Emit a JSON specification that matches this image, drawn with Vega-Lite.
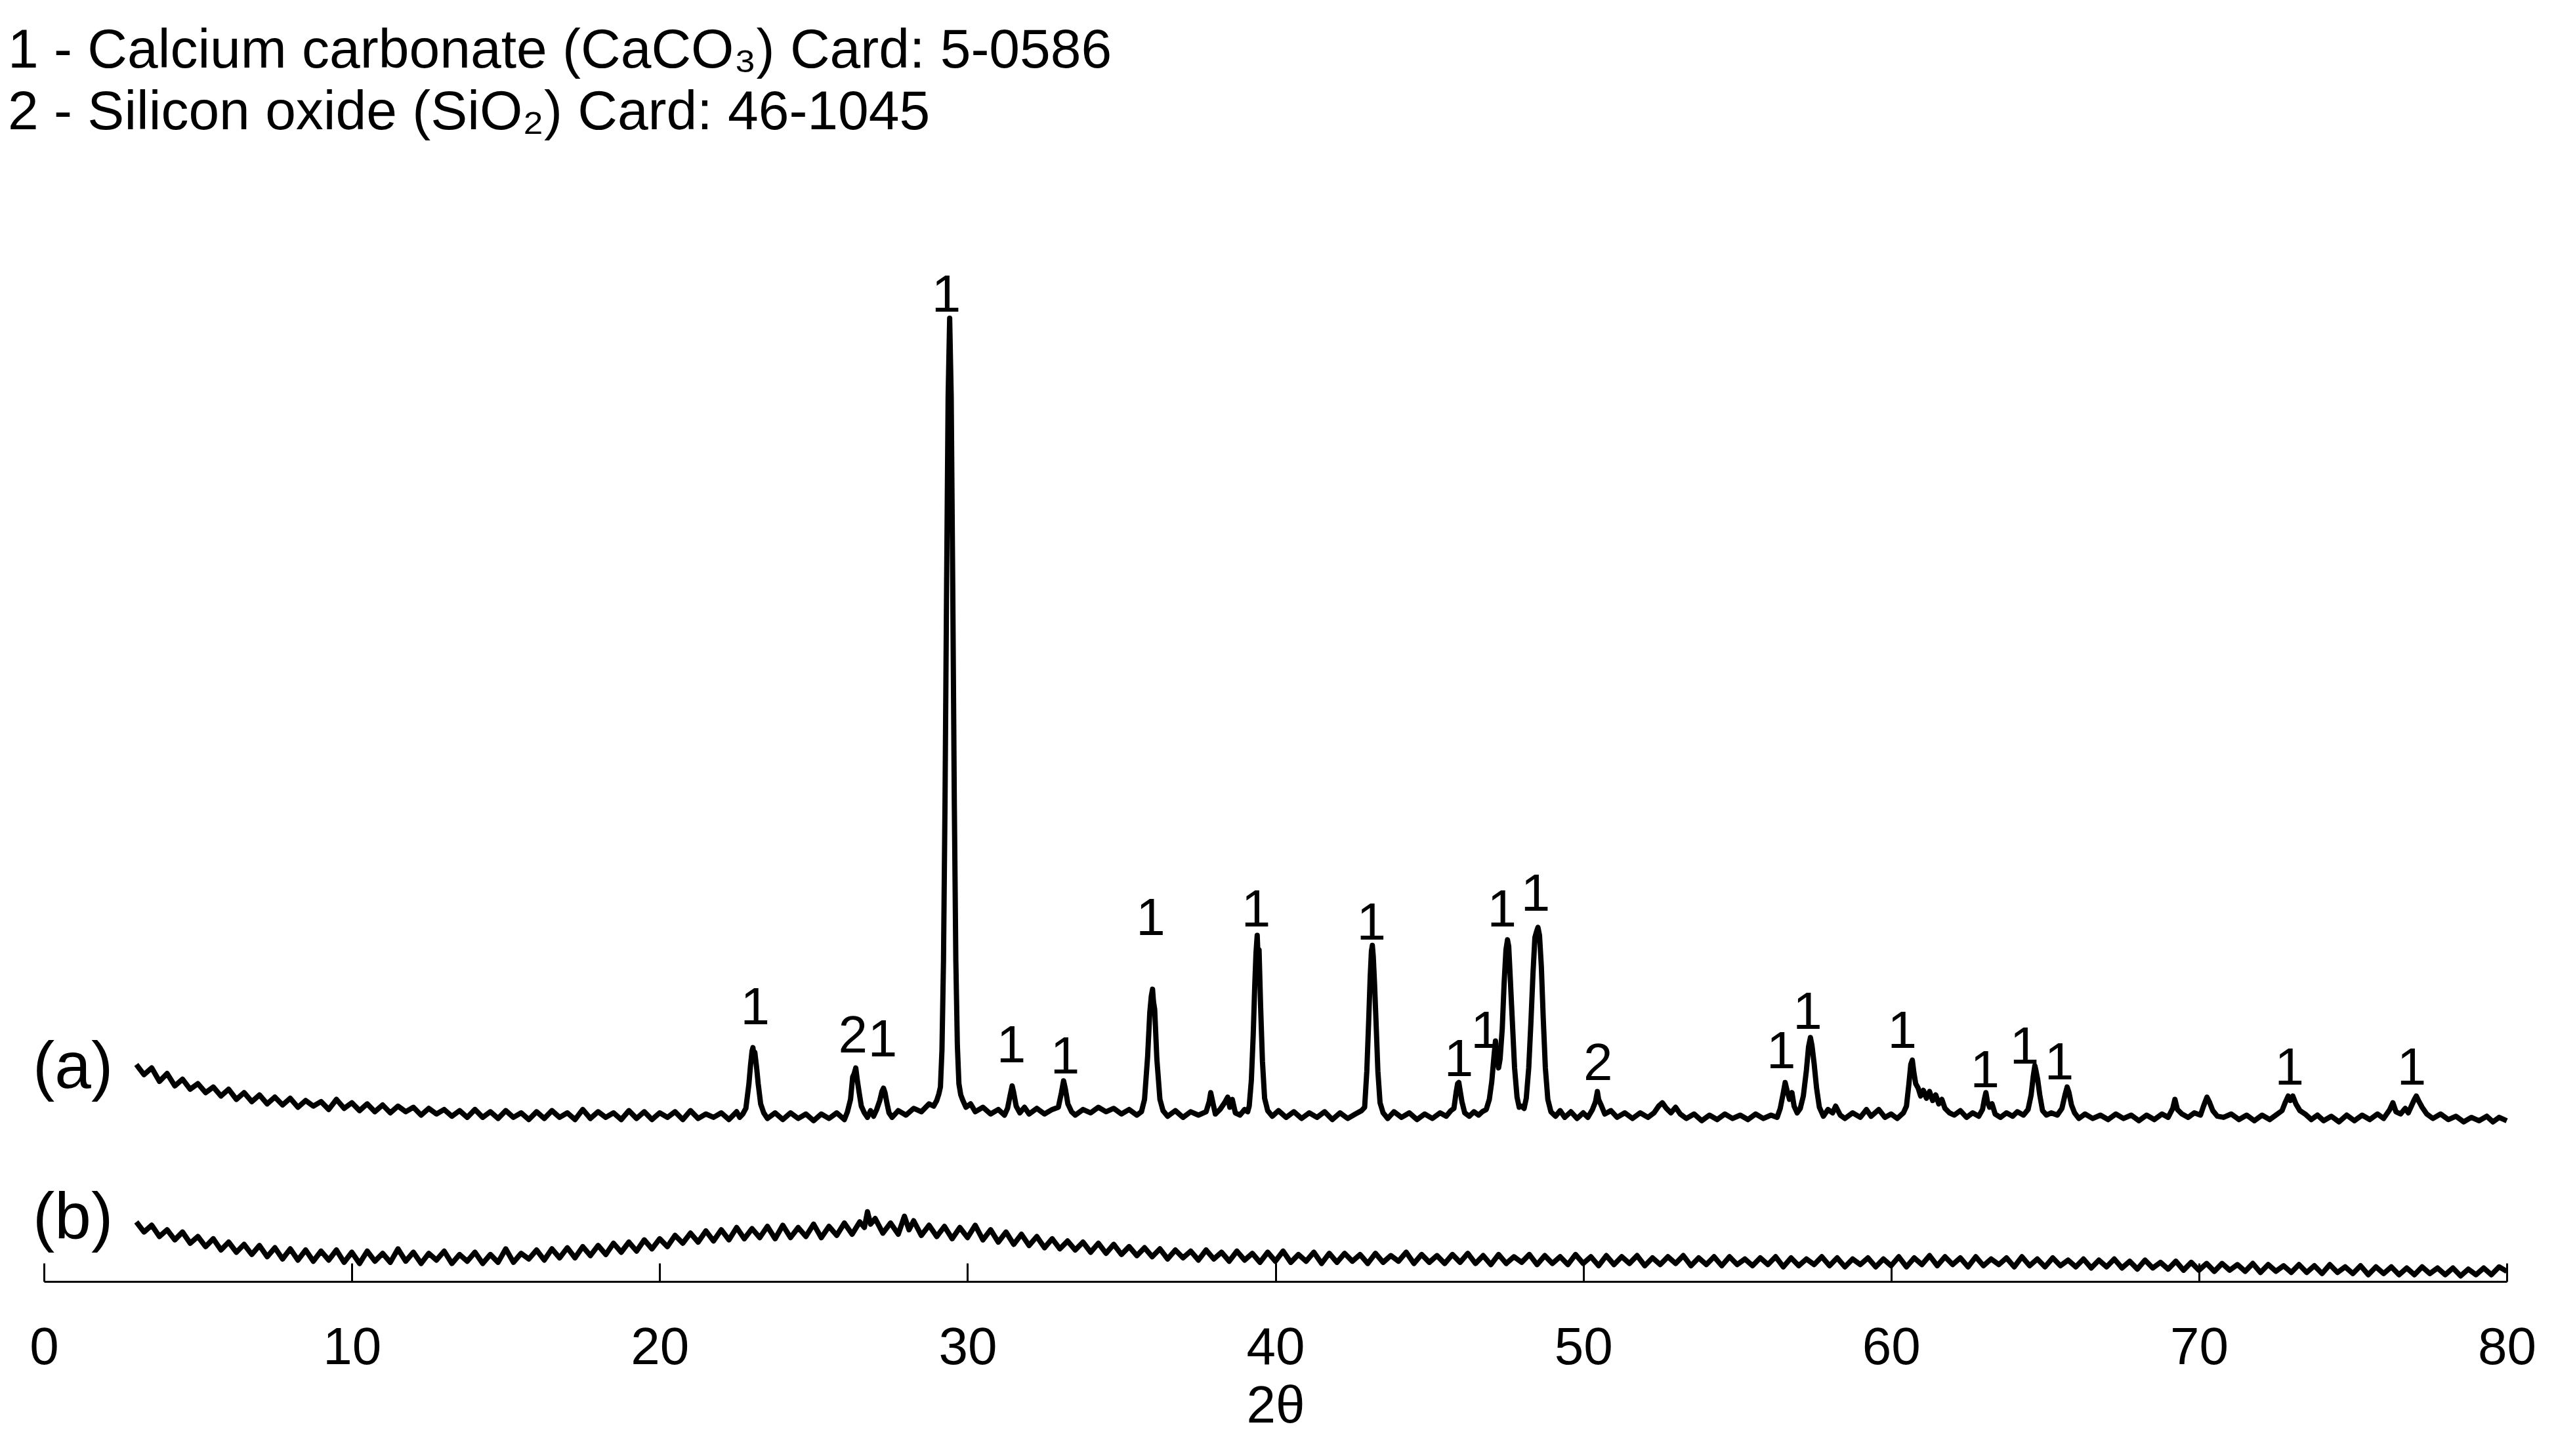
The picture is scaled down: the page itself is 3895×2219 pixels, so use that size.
{
  "$schema": "https://vega.github.io/schema/vega-lite/v6.json",
  "width": 3753,
  "height": 1713,
  "autosize": {"type": "none"},
  "padding": {"left": 67, "top": 240, "right": 75, "bottom": 266},
  "background": "white",
  "config": {"view": {"stroke": null}, "font": "Liberation Sans"},
  "title": {
    "text": ["1 - Calcium carbonate (CaCO₃) Card: 5-0586", "2 - Silicon oxide (SiO₂) Card: 46-1045"],
    "anchor": "start",
    "frame": "group",
    "font": "Liberation Sans",
    "fontSize": 84,
    "fontWeight": "normal",
    "lineHeight": 94,
    "color": "black",
    "dx": -55,
    "offset": 25
  },
  "datasets": {
    "pa": [
      {"t":3.0,"i":19.3},{"t":3.25,"i":18.4},{"t":3.5,"i":19.0},{"t":3.75,"i":17.8},{"t":4.0,"i":18.5},{"t":4.25,"i":17.4},{"t":4.5,"i":18.0},{"t":4.75,"i":17.1},{"t":5.0,"i":17.6},{"t":5.25,"i":16.8},{"t":5.5,"i":17.3},{"t":5.75,"i":16.5},{"t":6.0,"i":17.1},{"t":6.25,"i":16.2},{"t":6.5,"i":16.8},{"t":6.75,"i":16.0},{"t":7.0,"i":16.6},{"t":7.25,"i":15.8},{"t":7.5,"i":16.4},{"t":7.75,"i":15.7},{"t":8.0,"i":16.3},{"t":8.25,"i":15.5},{"t":8.5,"i":16.1},{"t":8.75,"i":15.6},{"t":9.0,"i":16.0},{"t":9.25,"i":15.3},{"t":9.5,"i":16.2},{"t":9.75,"i":15.4},{"t":10.0,"i":15.9},{"t":10.25,"i":15.2},{"t":10.5,"i":15.8},{"t":10.75,"i":15.1},{"t":11.0,"i":15.7},{"t":11.25,"i":15.0},{"t":11.5,"i":15.6},{"t":11.75,"i":15.1},{"t":12.0,"i":15.5},{"t":12.25,"i":14.8},{"t":12.5,"i":15.4},{"t":12.75,"i":14.9},{"t":13.0,"i":15.3},{"t":13.25,"i":14.7},{"t":13.5,"i":15.2},{"t":13.75,"i":14.6},{"t":14.0,"i":15.3},{"t":14.25,"i":14.6},{"t":14.5,"i":15.1},{"t":14.75,"i":14.5},{"t":15.0,"i":15.2},{"t":15.25,"i":14.6},{"t":15.5,"i":15.0},{"t":15.75,"i":14.4},{"t":16.0,"i":15.1},{"t":16.25,"i":14.5},{"t":16.5,"i":15.2},{"t":16.75,"i":14.6},{"t":17.0,"i":15.0},{"t":17.25,"i":14.4},{"t":17.5,"i":15.3},{"t":17.75,"i":14.5},{"t":18.0,"i":15.1},{"t":18.25,"i":14.6},{"t":18.5,"i":15.0},{"t":18.75,"i":14.4},{"t":19.0,"i":15.2},{"t":19.25,"i":14.5},{"t":19.5,"i":15.1},{"t":19.75,"i":14.4},{"t":20.0,"i":15.0},{"t":20.25,"i":14.6},{"t":20.5,"i":15.1},{"t":20.75,"i":14.4},{"t":21.0,"i":15.2},{"t":21.25,"i":14.5},{"t":21.5,"i":14.9},{"t":21.75,"i":14.6},{"t":22.0,"i":15.0},{"t":22.25,"i":14.4},{"t":22.5,"i":15.1},{"t":22.6,"i":14.6},
      {"t":22.7,"i":14.9},{"t":22.8,"i":15.4},{"t":22.9,"i":17.6},{"t":22.95,"i":19.2},{"t":23.0,"i":20.5},{"t":23.03,"i":20.8},{"t":23.06,"i":20.1},{"t":23.09,"i":20.4},{"t":23.15,"i":19.0},{"t":23.2,"i":17.6},{"t":23.28,"i":15.8},{"t":23.38,"i":15.0},{"t":23.5,"i":14.5},{"t":23.75,"i":15.0},{"t":24.0,"i":14.4},{"t":24.25,"i":15.0},{"t":24.5,"i":14.5},{"t":24.75,"i":14.9},{"t":25.0,"i":14.3},{"t":25.25,"i":14.9},{"t":25.5,"i":14.5},{"t":25.75,"i":15.0},{"t":26.0,"i":14.4},{"t":26.1,"i":15.1},
      {"t":26.2,"i":16.2},{"t":26.27,"i":18.2},{"t":26.32,"i":18.5},{"t":26.37,"i":19.0},{"t":26.42,"i":17.9},{"t":26.48,"i":16.8},{"t":26.55,"i":15.6},{"t":26.65,"i":15.0},{"t":26.75,"i":14.6},{"t":26.85,"i":15.2},{"t":26.95,"i":14.7},{"t":27.05,"i":15.3},{"t":27.15,"i":16.1},{"t":27.22,"i":16.9},{"t":27.27,"i":17.2},{"t":27.32,"i":16.8},{"t":27.38,"i":15.9},{"t":27.45,"i":15.0},{"t":27.55,"i":14.6},{"t":27.75,"i":15.2},{"t":28.0,"i":14.8},{"t":28.25,"i":15.4},{"t":28.5,"i":15.1},{"t":28.75,"i":15.8},{"t":28.9,"i":15.6},{"t":29.0,"i":16.1},
      {"t":29.07,"i":16.7},{"t":29.12,"i":17.3},{"t":29.17,"i":20.6},{"t":29.22,"i":28.6},{"t":29.27,"i":42.9},{"t":29.32,"i":61.8},{"t":29.37,"i":78.7},{"t":29.42,"i":85.7},{"t":29.47,"i":78.7},{"t":29.52,"i":61.8},{"t":29.57,"i":42.9},{"t":29.62,"i":28.6},{"t":29.67,"i":21.0},{"t":29.72,"i":17.6},{"t":29.78,"i":16.6},{"t":29.85,"i":16.1},{"t":29.95,"i":15.5},{"t":30.1,"i":15.8},{"t":30.25,"i":15.1},{"t":30.5,"i":15.5},{"t":30.75,"i":14.9},{"t":31.0,"i":15.3},{"t":31.2,"i":14.8},
      {"t":31.3,"i":15.4},{"t":31.38,"i":16.5},{"t":31.45,"i":17.4},{"t":31.5,"i":16.8},{"t":31.58,"i":15.6},{"t":31.7,"i":15.0},{"t":31.85,"i":15.5},{"t":32.0,"i":14.9},{"t":32.25,"i":15.4},{"t":32.5,"i":14.9},{"t":32.75,"i":15.3},{"t":32.95,"i":15.5},{"t":33.05,"i":16.8},{"t":33.12,"i":17.85},{"t":33.18,"i":17.1},{"t":33.26,"i":15.8},{"t":33.38,"i":15.1},{"t":33.5,"i":14.8},{"t":33.75,"i":15.3},{"t":34.0,"i":15.0},{"t":34.25,"i":15.5},{"t":34.5,"i":15.1},{"t":34.75,"i":15.4},{"t":35.0,"i":14.9},{"t":35.25,"i":15.3},{"t":35.5,"i":14.8},
      {"t":35.65,"i":15.1},{"t":35.75,"i":16.2},{"t":35.85,"i":20.0},{"t":35.92,"i":23.9},{"t":35.97,"i":25.4},{"t":36.01,"i":26.0},{"t":36.04,"i":24.9},{"t":36.08,"i":24.2},{"t":36.15,"i":19.8},{"t":36.25,"i":16.2},{"t":36.35,"i":15.2},{"t":36.5,"i":14.7},{"t":36.75,"i":15.2},{"t":37.0,"i":14.6},{"t":37.25,"i":15.1},{"t":37.5,"i":14.8},{"t":37.75,"i":15.1},{"t":37.85,"i":16.0},{"t":37.9,"i":16.8},{"t":37.97,"i":15.9},{"t":38.05,"i":14.9},{"t":38.2,"i":15.3},{"t":38.35,"i":15.9},{"t":38.45,"i":16.4},{"t":38.52,"i":15.5},{"t":38.6,"i":16.2},{"t":38.7,"i":15.0},{"t":38.85,"i":14.8},{"t":39.0,"i":15.3},{"t":39.1,"i":15.1},
      {"t":39.15,"i":15.6},{"t":39.22,"i":17.9},{"t":39.28,"i":21.9},{"t":39.33,"i":26.3},{"t":39.37,"i":29.2},{"t":39.41,"i":30.8},{"t":39.44,"i":28.6},{"t":39.47,"i":29.5},{"t":39.52,"i":24.5},{"t":39.58,"i":19.6},{"t":39.65,"i":16.3},{"t":39.75,"i":15.2},{"t":39.9,"i":14.7},{"t":40.1,"i":15.2},{"t":40.35,"i":14.6},{"t":40.6,"i":15.1},{"t":40.85,"i":14.5},{"t":41.1,"i":15.0},{"t":41.35,"i":14.6},{"t":41.6,"i":15.1},{"t":41.85,"i":14.4},{"t":42.1,"i":15.0},{"t":42.35,"i":14.5},{"t":42.6,"i":14.9},{"t":42.8,"i":15.2},
      {"t":42.9,"i":15.5},{"t":42.97,"i":18.7},{"t":43.03,"i":23.1},{"t":43.08,"i":27.1},{"t":43.12,"i":29.4},{"t":43.15,"i":29.9},{"t":43.18,"i":28.9},{"t":43.22,"i":26.6},{"t":43.27,"i":23.1},{"t":43.33,"i":18.7},{"t":43.4,"i":15.9},{"t":43.5,"i":15.0},{"t":43.65,"i":14.5},{"t":43.85,"i":15.1},{"t":44.1,"i":14.6},{"t":44.35,"i":15.0},{"t":44.6,"i":14.4},{"t":44.85,"i":14.9},{"t":45.1,"i":14.5},{"t":45.35,"i":15.0},{"t":45.55,"i":14.7},{"t":45.7,"i":15.2},
      {"t":45.8,"i":15.4},{"t":45.87,"i":16.8},{"t":45.92,"i":17.6},{"t":45.96,"i":17.7},{"t":46.0,"i":17.0},{"t":46.06,"i":16.0},{"t":46.15,"i":15.0},{"t":46.3,"i":14.7},{"t":46.45,"i":15.1},{"t":46.6,"i":14.8},{"t":46.72,"i":15.1},{"t":46.85,"i":15.3},{"t":46.95,"i":16.2},{"t":47.03,"i":17.8},{"t":47.1,"i":20.0},{"t":47.15,"i":21.4},{"t":47.2,"i":19.8},{"t":47.25,"i":19.0},{"t":47.3,"i":19.8},{"t":47.37,"i":22.5},{"t":47.43,"i":26.5},{"t":47.49,"i":29.5},{"t":47.54,"i":30.4},{"t":47.58,"i":29.8},{"t":47.63,"i":27.0},{"t":47.7,"i":23.0},{"t":47.77,"i":19.0},{"t":47.85,"i":16.4},{"t":47.92,"i":15.5},{"t":48.0,"i":15.6},{"t":48.08,"i":15.4},{"t":48.15,"i":16.3},{"t":48.23,"i":19.0},{"t":48.3,"i":23.0},{"t":48.37,"i":27.5},{"t":48.43,"i":30.6},{"t":48.48,"i":31.1},{"t":48.53,"i":31.5},{"t":48.58,"i":30.8},{"t":48.64,"i":28.0},{"t":48.7,"i":23.5},{"t":48.77,"i":19.0},{"t":48.85,"i":16.2},{"t":48.95,"i":15.1},{"t":49.1,"i":14.7},{"t":49.25,"i":15.2},{"t":49.4,"i":14.6},{"t":49.6,"i":15.1},{"t":49.8,"i":14.5},{"t":50.0,"i":15.0},{"t":50.15,"i":14.6},{"t":50.3,"i":15.3},{"t":50.4,"i":16.0},{"t":50.46,"i":16.9},{"t":50.5,"i":16.2},{"t":50.58,"i":15.7},{"t":50.7,"i":14.9},{"t":50.9,"i":15.2},{"t":51.1,"i":14.6},{"t":51.35,"i":15.0},{"t":51.6,"i":14.5},{"t":51.85,"i":15.0},{"t":52.1,"i":14.6},{"t":52.3,"i":15.0},{"t":52.45,"i":15.6},{"t":52.57,"i":15.9},{"t":52.7,"i":15.4},{"t":52.85,"i":15.0},{"t":53.0,"i":15.5},{"t":53.15,"i":14.9},{"t":53.35,"i":14.5},{"t":53.6,"i":14.9},{"t":53.85,"i":14.3},{"t":54.1,"i":14.8},{"t":54.35,"i":14.4},{"t":54.6,"i":14.9},{"t":54.85,"i":14.5},{"t":55.1,"i":14.8},{"t":55.35,"i":14.4},{"t":55.6,"i":14.9},{"t":55.85,"i":14.5},{"t":56.1,"i":14.8},{"t":56.3,"i":14.6},
      {"t":56.4,"i":15.4},{"t":56.5,"i":16.8},{"t":56.56,"i":17.7},{"t":56.62,"i":17.0},{"t":56.7,"i":16.2},{"t":56.78,"i":16.8},{"t":56.85,"i":15.6},{"t":56.95,"i":15.0},{"t":57.05,"i":15.4},{"t":57.15,"i":16.5},{"t":57.25,"i":18.8},{"t":57.32,"i":20.9},{"t":57.38,"i":21.7},{"t":57.43,"i":21.0},{"t":57.5,"i":19.4},{"t":57.58,"i":17.2},{"t":57.67,"i":15.5},{"t":57.8,"i":14.7},{"t":57.95,"i":15.3},{"t":58.1,"i":15.0},{"t":58.2,"i":15.6},{"t":58.35,"i":14.8},{"t":58.5,"i":14.5},{"t":58.75,"i":15.0},{"t":59.0,"i":14.6},{"t":59.2,"i":15.3},{"t":59.35,"i":14.7},{"t":59.6,"i":15.3},{"t":59.8,"i":14.6},{"t":60.0,"i":14.9},{"t":60.2,"i":14.5},{"t":60.4,"i":15.0},
      {"t":60.5,"i":15.6},{"t":60.58,"i":17.6},{"t":60.64,"i":19.3},{"t":60.69,"i":19.7},{"t":60.74,"i":18.6},{"t":60.8,"i":17.6},{"t":60.88,"i":17.2},{"t":60.96,"i":16.5},{"t":61.05,"i":17.0},{"t":61.15,"i":16.3},{"t":61.25,"i":16.9},{"t":61.35,"i":16.1},{"t":61.45,"i":16.6},{"t":61.55,"i":15.8},{"t":61.65,"i":16.2},{"t":61.75,"i":15.4},{"t":61.9,"i":15.0},{"t":62.05,"i":14.8},{"t":62.25,"i":15.2},{"t":62.45,"i":14.6},{"t":62.65,"i":15.0},{"t":62.85,"i":14.7},{"t":62.97,"i":15.3},{"t":63.03,"i":16.2},{"t":63.08,"i":16.8},{"t":63.13,"i":16.0},{"t":63.2,"i":15.5},{"t":63.28,"i":15.8},{"t":63.38,"i":14.9},{"t":63.55,"i":14.6},{"t":63.75,"i":15.0},{"t":63.95,"i":14.7},{"t":64.1,"i":15.1},{"t":64.3,"i":14.8},{"t":64.45,"i":15.3},{"t":64.55,"i":16.6},{"t":64.62,"i":18.3},{"t":64.67,"i":19.2},{"t":64.71,"i":18.7},{"t":64.76,"i":18.0},{"t":64.83,"i":16.6},{"t":64.92,"i":15.2},{"t":65.05,"i":14.8},{"t":65.2,"i":15.0},{"t":65.4,"i":14.8},{"t":65.55,"i":15.4},{"t":65.65,"i":16.6},{"t":65.72,"i":17.3},{"t":65.78,"i":16.8},{"t":65.86,"i":15.7},{"t":65.96,"i":15.0},{"t":66.1,"i":14.5},{"t":66.3,"i":14.9},{"t":66.55,"i":14.5},{"t":66.8,"i":14.8},{"t":67.05,"i":14.4},{"t":67.3,"i":14.9},{"t":67.55,"i":14.5},{"t":67.8,"i":14.8},{"t":68.05,"i":14.3},{"t":68.3,"i":14.8},{"t":68.55,"i":14.4},{"t":68.8,"i":14.9},{"t":69.0,"i":14.6},{"t":69.15,"i":15.4},{"t":69.22,"i":16.2},{"t":69.3,"i":15.3},{"t":69.45,"i":14.9},{"t":69.65,"i":14.6},{"t":69.85,"i":15.0},{"t":70.05,"i":14.8},{"t":70.15,"i":15.6},{"t":70.26,"i":16.4},{"t":70.35,"i":15.9},{"t":70.45,"i":15.2},{"t":70.6,"i":14.7},{"t":70.8,"i":14.6},{"t":71.05,"i":14.9},{"t":71.3,"i":14.4},{"t":71.55,"i":14.8},{"t":71.8,"i":14.3},{"t":72.05,"i":14.8},{"t":72.3,"i":14.4},{"t":72.55,"i":14.9},{"t":72.7,"i":15.2},{"t":72.8,"i":15.9},{"t":72.9,"i":16.5},{"t":72.97,"i":16.1},{"t":73.05,"i":16.5},{"t":73.15,"i":15.8},{"t":73.28,"i":15.2},{"t":73.45,"i":14.9},{"t":73.65,"i":14.4},{"t":73.85,"i":14.8},{"t":74.05,"i":14.3},{"t":74.3,"i":14.7},{"t":74.55,"i":14.2},{"t":74.8,"i":14.8},{"t":75.05,"i":14.3},{"t":75.3,"i":14.8},{"t":75.55,"i":14.4},{"t":75.8,"i":14.9},{"t":76.0,"i":14.5},{"t":76.2,"i":15.3},{"t":76.3,"i":15.9},{"t":76.4,"i":15.1},{"t":76.55,"i":14.9},{"t":76.7,"i":15.4},{"t":76.8,"i":15.0},{"t":76.9,"i":15.6},{"t":77.0,"i":16.2},{"t":77.06,"i":16.5},{"t":77.15,"i":16.0},{"t":77.25,"i":15.5},{"t":77.4,"i":14.9},{"t":77.6,"i":14.5},{"t":77.85,"i":14.9},{"t":78.1,"i":14.4},{"t":78.35,"i":14.7},{"t":78.6,"i":14.2},{"t":78.85,"i":14.6},{"t":79.1,"i":14.3},{"t":79.35,"i":14.7},{"t":79.55,"i":14.2},{"t":79.75,"i":14.6},{"t":80.0,"i":14.3}
    ],
    "pb": [
      {"t":3.0,"i":5.3},{"t":3.25,"i":4.4},{"t":3.5,"i":5.0},{"t":3.75,"i":4.0},{"t":4.0,"i":4.6},{"t":4.25,"i":3.7},{"t":4.5,"i":4.4},{"t":4.75,"i":3.4},{"t":5.0,"i":4.0},{"t":5.25,"i":3.1},{"t":5.5,"i":3.8},{"t":5.75,"i":2.8},{"t":6.0,"i":3.5},{"t":6.25,"i":2.6},{"t":6.5,"i":3.3},{"t":6.75,"i":2.4},{"t":7.0,"i":3.2},{"t":7.25,"i":2.2},{"t":7.5,"i":3.0},{"t":7.75,"i":2.0},{"t":8.0,"i":2.9},{"t":8.25,"i":1.9},{"t":8.5,"i":2.8},{"t":8.75,"i":1.8},{"t":9.0,"i":2.7},{"t":9.25,"i":1.9},{"t":9.5,"i":2.8},{"t":9.75,"i":1.7},{"t":10.0,"i":2.6},{"t":10.25,"i":1.6},{"t":10.5,"i":2.7},{"t":10.75,"i":1.8},{"t":11.0,"i":2.5},{"t":11.25,"i":1.7},{"t":11.5,"i":2.9},{"t":11.75,"i":1.8},{"t":12.0,"i":2.6},{"t":12.25,"i":1.6},{"t":12.5,"i":2.5},{"t":12.75,"i":1.9},{"t":13.0,"i":2.7},{"t":13.25,"i":1.6},{"t":13.5,"i":2.4},{"t":13.75,"i":1.8},{"t":14.0,"i":2.6},{"t":14.25,"i":1.6},{"t":14.5,"i":2.4},{"t":14.75,"i":1.7},{"t":15.0,"i":2.9},{"t":15.25,"i":1.7},{"t":15.5,"i":2.5},{"t":15.75,"i":2.0},{"t":16.0,"i":2.8},{"t":16.25,"i":1.9},{"t":16.5,"i":2.9},{"t":16.75,"i":2.1},{"t":17.0,"i":3.0},{"t":17.25,"i":2.1},{"t":17.5,"i":3.1},{"t":17.75,"i":2.3},{"t":18.0,"i":3.2},{"t":18.25,"i":2.4},{"t":18.5,"i":3.4},{"t":18.75,"i":2.6},{"t":19.0,"i":3.5},{"t":19.25,"i":2.7},{"t":19.5,"i":3.7},{"t":19.75,"i":2.9},{"t":20.0,"i":3.8},{"t":20.25,"i":3.1},{"t":20.5,"i":4.1},{"t":20.75,"i":3.4},{"t":21.0,"i":4.3},{"t":21.25,"i":3.5},{"t":21.5,"i":4.5},{"t":21.75,"i":3.6},{"t":22.0,"i":4.6},{"t":22.25,"i":3.7},{"t":22.5,"i":4.8},{"t":22.75,"i":3.8},{"t":23.0,"i":4.7},{"t":23.25,"i":3.9},{"t":23.5,"i":4.9},{"t":23.75,"i":3.8},{"t":24.0,"i":5.0},{"t":24.25,"i":3.9},{"t":24.5,"i":4.8},{"t":24.75,"i":4.0},{"t":25.0,"i":5.1},{"t":25.25,"i":3.9},{"t":25.5,"i":4.9},{"t":25.75,"i":4.1},{"t":26.0,"i":5.2},{"t":26.25,"i":4.2},{"t":26.5,"i":5.3},{"t":26.65,"i":4.8},{"t":26.75,"i":6.2},{"t":26.85,"i":5.1},{"t":27.0,"i":5.6},{"t":27.25,"i":4.3},{"t":27.5,"i":5.2},{"t":27.75,"i":4.2},{"t":27.95,"i":5.8},{"t":28.1,"i":4.6},{"t":28.25,"i":5.4},{"t":28.5,"i":4.1},{"t":28.75,"i":5.0},{"t":29.0,"i":4.0},{"t":29.25,"i":4.9},{"t":29.5,"i":3.8},{"t":29.75,"i":4.8},{"t":30.0,"i":3.9},{"t":30.25,"i":5.0},{"t":30.5,"i":3.7},{"t":30.75,"i":4.6},{"t":31.0,"i":3.5},{"t":31.25,"i":4.4},{"t":31.5,"i":3.3},{"t":31.75,"i":4.2},{"t":32.0,"i":3.2},{"t":32.25,"i":4.0},{"t":32.5,"i":3.0},{"t":32.75,"i":3.8},{"t":33.0,"i":2.9},{"t":33.25,"i":3.6},{"t":33.5,"i":2.8},{"t":33.75,"i":3.5},{"t":34.0,"i":2.6},{"t":34.25,"i":3.4},{"t":34.5,"i":2.5},{"t":34.75,"i":3.3},{"t":35.0,"i":2.4},{"t":35.25,"i":3.1},{"t":35.5,"i":2.3},{"t":35.75,"i":3.0},{"t":36.0,"i":2.2},{"t":36.25,"i":2.9},{"t":36.5,"i":2.0},{"t":36.75,"i":2.8},{"t":37.0,"i":2.1},{"t":37.25,"i":2.7},{"t":37.5,"i":1.9},{"t":37.75,"i":2.8},{"t":38.0,"i":2.0},{"t":38.25,"i":2.6},{"t":38.5,"i":1.8},{"t":38.75,"i":2.7},{"t":39.0,"i":1.9},{"t":39.25,"i":2.5},{"t":39.5,"i":1.7},{"t":39.75,"i":2.6},{"t":40.0,"i":1.8},{"t":40.25,"i":2.7},{"t":40.5,"i":1.7},{"t":40.75,"i":2.4},{"t":41.0,"i":1.8},{"t":41.25,"i":2.6},{"t":41.5,"i":1.6},{"t":41.75,"i":2.5},{"t":42.0,"i":1.7},{"t":42.25,"i":2.5},{"t":42.5,"i":1.8},{"t":42.75,"i":2.4},{"t":43.0,"i":1.6},{"t":43.25,"i":2.5},{"t":43.5,"i":1.7},{"t":43.75,"i":2.3},{"t":44.0,"i":1.8},{"t":44.25,"i":2.6},{"t":44.5,"i":1.6},{"t":44.75,"i":2.4},{"t":45.0,"i":1.7},{"t":45.25,"i":2.3},{"t":45.5,"i":1.6},{"t":45.75,"i":2.4},{"t":46.0,"i":1.7},{"t":46.25,"i":2.5},{"t":46.5,"i":1.6},{"t":46.75,"i":2.3},{"t":47.0,"i":1.5},{"t":47.25,"i":2.4},{"t":47.5,"i":1.6},{"t":47.75,"i":2.2},{"t":48.0,"i":1.7},{"t":48.25,"i":2.4},{"t":48.5,"i":1.5},{"t":48.75,"i":2.3},{"t":49.0,"i":1.6},{"t":49.25,"i":2.2},{"t":49.5,"i":1.5},{"t":49.75,"i":2.4},{"t":50.0,"i":1.6},{"t":50.25,"i":2.2},{"t":50.5,"i":1.4},{"t":50.75,"i":2.3},{"t":51.0,"i":1.5},{"t":51.25,"i":2.2},{"t":51.5,"i":1.6},{"t":51.75,"i":2.3},{"t":52.0,"i":1.4},{"t":52.25,"i":2.1},{"t":52.5,"i":1.5},{"t":52.75,"i":2.2},{"t":53.0,"i":1.6},{"t":53.25,"i":2.3},{"t":53.5,"i":1.4},{"t":53.75,"i":2.1},{"t":54.0,"i":1.5},{"t":54.25,"i":2.2},{"t":54.5,"i":1.4},{"t":54.75,"i":2.2},{"t":55.0,"i":1.5},{"t":55.25,"i":2.0},{"t":55.5,"i":1.4},{"t":55.75,"i":2.1},{"t":56.0,"i":1.5},{"t":56.25,"i":2.2},{"t":56.5,"i":1.3},{"t":56.75,"i":2.1},{"t":57.0,"i":1.4},{"t":57.25,"i":2.0},{"t":57.5,"i":1.5},{"t":57.75,"i":2.2},{"t":58.0,"i":1.4},{"t":58.25,"i":2.1},{"t":58.5,"i":1.3},{"t":58.75,"i":2.0},{"t":59.0,"i":1.5},{"t":59.25,"i":2.1},{"t":59.5,"i":1.3},{"t":59.75,"i":2.0},{"t":60.0,"i":1.4},{"t":60.25,"i":2.2},{"t":60.5,"i":1.3},{"t":60.75,"i":2.1},{"t":61.0,"i":1.5},{"t":61.25,"i":2.3},{"t":61.5,"i":1.4},{"t":61.75,"i":2.2},{"t":62.0,"i":1.5},{"t":62.25,"i":2.1},{"t":62.5,"i":1.3},{"t":62.75,"i":2.2},{"t":63.0,"i":1.4},{"t":63.25,"i":2.0},{"t":63.5,"i":1.5},{"t":63.75,"i":2.1},{"t":64.0,"i":1.3},{"t":64.25,"i":2.2},{"t":64.5,"i":1.4},{"t":64.75,"i":2.0},{"t":65.0,"i":1.3},{"t":65.25,"i":2.1},{"t":65.5,"i":1.4},{"t":65.75,"i":1.9},{"t":66.0,"i":1.3},{"t":66.25,"i":2.0},{"t":66.5,"i":1.2},{"t":66.75,"i":1.9},{"t":67.0,"i":1.3},{"t":67.25,"i":2.0},{"t":67.5,"i":1.2},{"t":67.75,"i":1.8},{"t":68.0,"i":1.1},{"t":68.25,"i":1.9},{"t":68.5,"i":1.2},{"t":68.75,"i":1.7},{"t":69.0,"i":1.1},{"t":69.25,"i":1.8},{"t":69.5,"i":1.0},{"t":69.75,"i":1.7},{"t":70.0,"i":1.0},{"t":70.25,"i":1.6},{"t":70.5,"i":0.9},{"t":70.75,"i":1.6},{"t":71.0,"i":1.0},{"t":71.25,"i":1.5},{"t":71.5,"i":0.9},{"t":71.75,"i":1.6},{"t":72.0,"i":0.8},{"t":72.25,"i":1.5},{"t":72.5,"i":0.9},{"t":72.75,"i":1.4},{"t":73.0,"i":0.8},{"t":73.25,"i":1.5},{"t":73.5,"i":0.8},{"t":73.75,"i":1.4},{"t":74.0,"i":0.7},{"t":74.25,"i":1.5},{"t":74.5,"i":0.8},{"t":74.75,"i":1.3},{"t":75.0,"i":0.7},{"t":75.25,"i":1.4},{"t":75.5,"i":0.6},{"t":75.75,"i":1.3},{"t":76.0,"i":0.7},{"t":76.25,"i":1.3},{"t":76.5,"i":0.6},{"t":76.75,"i":1.2},{"t":77.0,"i":0.6},{"t":77.25,"i":1.3},{"t":77.5,"i":0.7},{"t":77.75,"i":1.2},{"t":78.0,"i":0.6},{"t":78.25,"i":1.2},{"t":78.5,"i":0.5},{"t":78.75,"i":1.1},{"t":79.0,"i":0.6},{"t":79.25,"i":1.2},{"t":79.5,"i":0.6},{"t":79.75,"i":1.3},{"t":80.0,"i":0.9}
    ],
    "lab": [
      {"t":23.1,"i":22.9,"s":"1"},{"t":26.28,"i":20.4,"s":"2"},{"t":27.24,"i":20.0,"s":"1"},{"t":29.31,"i":86.3,"s":"1"},{"t":31.42,"i":19.5,"s":"1"},{"t":33.17,"i":18.5,"s":"1"},{"t":35.95,"i":30.8,"s":"1"},{"t":39.37,"i":31.6,"s":"1"},{"t":43.12,"i":30.4,"s":"1"},{"t":45.96,"i":18.3,"s":"1"},{"t":46.82,"i":20.8,"s":"1"},{"t":47.36,"i":31.6,"s":"1"},{"t":48.45,"i":33.0,"s":"1"},{"t":50.48,"i":17.9,"s":"2"},{"t":56.43,"i":19.0,"s":"1"},{"t":57.29,"i":22.5,"s":"1"},{"t":60.36,"i":20.8,"s":"1"},{"t":63.05,"i":17.3,"s":"1"},{"t":64.33,"i":19.4,"s":"1"},{"t":65.46,"i":18.0,"s":"1"},{"t":72.94,"i":17.5,"s":"1"},{"t":76.91,"i":17.5,"s":"1"}
    ],
    "side": [
      {"t":0.94,"i":17.2,"s":"(a)"},{"t":0.94,"i":3.8,"s":"(b)"}
    ]
  },
  "layer": [
    {
      "data": {"name": "pb"},
      "mark": {"type": "line", "color": "black", "strokeWidth": 8, "strokeJoin": "round"},
      "encoding": {
        "x": {"field": "t", "type": "quantitative", "scale": {"domain": [0, 80], "nice": false, "zero": false},
          "axis": {"values": [0, 10, 20, 30, 40, 50, 60, 70, 80], "format": "d", "title": "2θ", "grid": false,
            "domainColor": "black", "domainWidth": 3, "tickColor": "black", "tickWidth": 3, "tickSize": -28,
            "labelFontSize": 80, "labelFont": "Liberation Sans", "labelColor": "black", "labelPadding": 90,
            "labelFlush": false, "labelOverlap": false,
            "titleFontSize": 80, "titleFont": "Liberation Sans", "titleFontWeight": "normal", "titleColor": "black", "titlePadding": 10}},
        "y": {"field": "i", "type": "quantitative", "scale": {"domain": [0, 100], "nice": false, "zero": false}, "axis": null}
      }
    },
    {
      "data": {"name": "pa"},
      "mark": {"type": "line", "color": "black", "strokeWidth": 8, "strokeJoin": "round"},
      "encoding": {
        "x": {"field": "t", "type": "quantitative"},
        "y": {"field": "i", "type": "quantitative"}
      }
    },
    {
      "data": {"name": "lab"},
      "mark": {"type": "text", "fontSize": 80, "font": "Liberation Sans", "align": "center", "baseline": "alphabetic", "color": "black"},
      "encoding": {
        "x": {"field": "t", "type": "quantitative"},
        "y": {"field": "i", "type": "quantitative"},
        "text": {"field": "s"}
      }
    },
    {
      "data": {"name": "side"},
      "mark": {"type": "text", "fontSize": 100, "font": "Liberation Sans", "align": "center", "baseline": "alphabetic", "color": "black"},
      "encoding": {
        "x": {"field": "t", "type": "quantitative"},
        "y": {"field": "i", "type": "quantitative"},
        "text": {"field": "s"}
      }
    }
  ]
}
